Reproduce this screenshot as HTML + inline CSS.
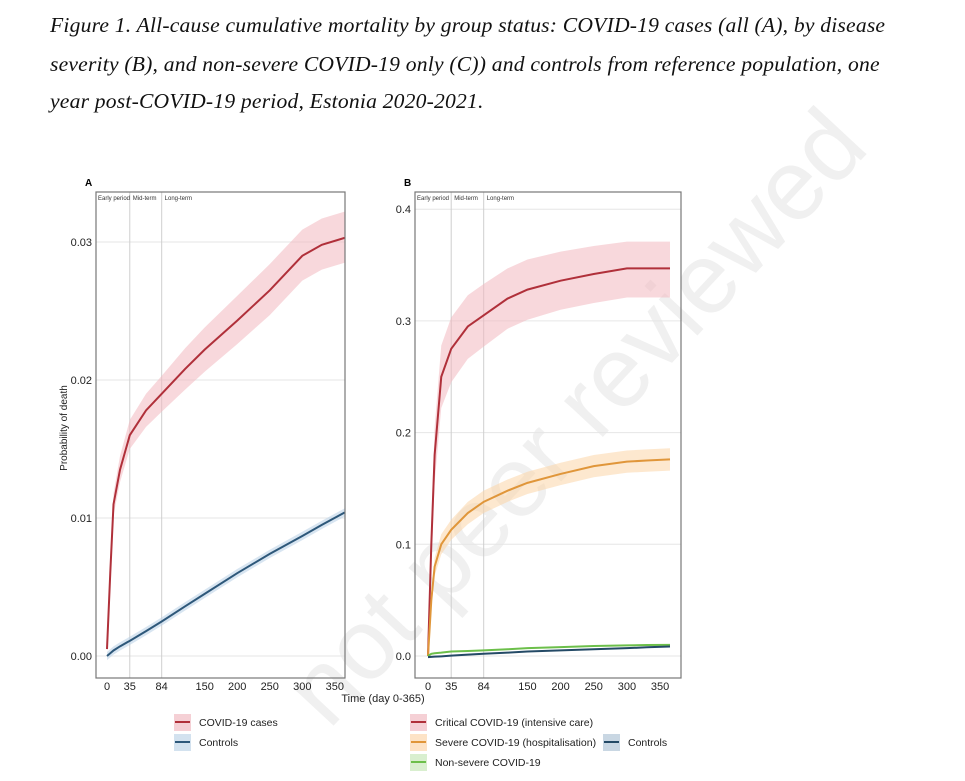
<!DOCTYPE html>
<html><head><meta charset="utf-8">
<style>
html,body{margin:0;padding:0;background:#fff;width:965px;height:781px;overflow:hidden}
.cap{position:absolute;left:50px;font-family:"Liberation Serif",serif;font-style:italic;font-size:21.6px;color:#111;white-space:nowrap;letter-spacing:0.2px}
svg{position:absolute;left:0;top:0;overflow:hidden}
text{font-family:"Liberation Sans",sans-serif}
</style></head><body>
<svg id="chart" width="965" height="781"></svg>
<div class="cap" style="top:13px">Figure 1. All-cause cumulative mortality by group status: COVID-19 cases (all (A), by disease</div>
<div class="cap" style="top:52px">severity (B), and non-severe COVID-19 only (C)) and controls from reference population, one</div>
<div class="cap" style="top:89px">year post-COVID-19 period, Estonia 2020-2021.</div>
<script>
// shared x data
const days = [0,5,10,20,35,60,84,120,150,200,250,300,330,365];
const xTicks = [0,35,84,150,200,250,300,350];
// Panel A
const aCovid = [0.0005,0.006,0.011,0.0135,0.016,0.0178,0.019,0.0208,0.0222,0.0243,0.0265,0.029,0.0298,0.0303];
const aCovidLo = [0.0003,0.0055,0.0102,0.0126,0.015,0.0166,0.0177,0.0193,0.0206,0.0226,0.0247,0.0272,0.028,0.0285];
const aCovidHi = [0.0008,0.0066,0.0118,0.0145,0.0171,0.019,0.0203,0.0223,0.0238,0.0261,0.0284,0.0309,0.0317,0.0322];
const aCtrl = [0,0.0002,0.0004,0.0007,0.0011,0.0018,0.0025,0.0036,0.0045,0.006,0.0074,0.0087,0.0095,0.0104];
const aTicks = [0,0.01,0.02,0.03];
const aTickLabels = ["0.00","0.01","0.02","0.03"];
// Panel B
const bCrit = [0,0.1,0.18,0.25,0.275,0.295,0.305,0.32,0.328,0.336,0.342,0.347,0.347,0.347];
const bCritLo = [0,0.08,0.155,0.222,0.245,0.266,0.277,0.293,0.301,0.31,0.316,0.321,0.321,0.321];
const bCritHi = [0,0.12,0.205,0.278,0.303,0.323,0.333,0.347,0.355,0.362,0.367,0.371,0.371,0.371];
const bSev = [0,0.05,0.08,0.1,0.113,0.128,0.138,0.148,0.155,0.163,0.17,0.174,0.175,0.176];
const bSevLo = [0,0.043,0.072,0.091,0.104,0.118,0.128,0.138,0.145,0.153,0.16,0.164,0.165,0.166];
const bSevHi = [0,0.057,0.088,0.109,0.122,0.138,0.148,0.158,0.165,0.173,0.18,0.184,0.185,0.186];
const bNon = [0,0.002,0.0025,0.003,0.004,0.0045,0.005,0.006,0.007,0.008,0.009,0.0095,0.0098,0.01];
const bCtrl = [-0.001,-0.0008,-0.0006,-0.0003,0.0003,0.0012,0.002,0.003,0.004,0.005,0.006,0.007,0.0078,0.0085];
const bTicks = [0,0.1,0.2,0.3,0.4];
const bTickLabels = ["0.0","0.1","0.2","0.3","0.4"];

const NS="http://www.w3.org/2000/svg";
const svg=document.getElementById('chart');
function mk(tag,attrs,parent){const e=document.createElementNS(NS,tag);for(const k in attrs)e.setAttribute(k,attrs[k]);(parent||svg).appendChild(e);return e;}

// watermark
const wm=mk('text',{x:600,y:440,'font-size':100,fill:'#f0f0f0',transform:'rotate(-47 600 440)','text-anchor':'middle'});


wm.textContent='not peer reviewed';

function panel(cfg){
  const g=mk('g',{});
  
  
  const X=d=>cfg.x0+d*cfg.kx;
  const Y=v=>cfg.y0-v*cfg.ky;
  cfg.yTicks.forEach((t,i)=>{
    const l=mk('line',{x1:cfg.L,x2:cfg.R,y1:Y(t),y2:Y(t),stroke:'#e6e6e6','stroke-width':1},g);
    
    
    const tx=mk('text',{x:cfg.L-4,y:Y(t)+4,'font-size':11,'text-anchor':'end',fill:'#222'},g);
    
    
    tx.textContent=cfg.yLabels[i];
  });
  [35,84].forEach(d=>{
    const l=mk('line',{x1:X(d),x2:X(d),y1:cfg.T,y2:cfg.B,stroke:'#cfcfcf','stroke-width':1},g);
    
    
  });
  [['Early period',0],['Mid-term',35],['Long-term',84]].forEach(p=>{
    const t=mk('text',{x:(p[1]===0?cfg.L+2:X(p[1])+3),y:cfg.T+8,'font-size':6,fill:'#333'},g);
    
    
    t.textContent=p[0];
  });
  xTicks.forEach(d=>{
    const t=mk('text',{x:X(d),y:cfg.B+12,'font-size':11,'text-anchor':'middle',fill:'#222'},g);
    
    
    t.textContent=d;
  });
  cfg.series.forEach(s=>{
    if(s.lo){
      let d='M'+days.map((dd,i)=>X(dd)+','+Y(s.hi[i])).join('L');
      d+='L'+days.slice().reverse().map((dd,j)=>X(dd)+','+Y(s.lo[days.length-1-j])).join('L')+'Z';
      const b=mk('path',{d:d,fill:s.band,opacity:0.55},g);
      
      
    }
    const p=mk('polyline',{points:days.map((dd,i)=>X(dd)+','+Y(s.v[i])).join(' '),fill:'none',stroke:s.color,'stroke-width':2},g);
    
    
  });
  const box=mk('rect',{x:cfg.L,y:cfg.T,width:cfg.R-cfg.L,height:cfg.B-cfg.T,fill:'none',stroke:'#777','stroke-width':1.2},g);
  
  
  const lab=mk('text',{x:cfg.L-11,y:cfg.T-6,'font-size':10,'font-weight':'bold'},g);
  
  
  lab.textContent=cfg.letter;
}
panel({name:'panel-a',letter:'A',L:96,R:345,T:192,B:678,x0:107,kx:0.651,y0:656,ky:13800,yTicks:aTicks,yLabels:aTickLabels,
  series:[{name:'covid-cases',v:aCovid,lo:aCovidLo,hi:aCovidHi,color:'#b0303a',band:'#f2b8c0'},
          {name:'controls',v:aCtrl,lo:aCtrl.map(v=>v-0.0003),hi:aCtrl.map(v=>v+0.0003),color:'#2e587a',band:'#b8d0e6'}]});
panel({name:'panel-b',letter:'B',L:415,R:681,T:192,B:678,x0:428,kx:0.663,y0:656,ky:1117,yTicks:bTicks,yLabels:bTickLabels,
  series:[{name:'critical',v:bCrit,lo:bCritLo,hi:bCritHi,color:'#b0303a',band:'#f2b8c0'},
          {name:'severe',v:bSev,lo:bSevLo,hi:bSevHi,color:'#e0963a',band:'#fbd6a8'},
          {name:'non-severe',v:bNon,color:'#6cbf4a'},
          {name:'controls-b',v:bCtrl,color:'#244a66'}]});

const yt=mk('text',{x:67,y:428,'font-size':10,'text-anchor':'middle',transform:'rotate(-90 67 428)',fill:'#222'});


yt.textContent='Probability of death';
const xt=mk('text',{x:383,y:702,'font-size':11,'text-anchor':'middle',fill:'#222'});


xt.textContent='Time (day 0-365)';

const legendItems=[['COVID-19 cases',174,722,'#b0303a','#f5d0d5'],['Controls',174,742,'#2e587a','#d3e2ef'],
 ['Critical COVID-19 (intensive care)',410,722,'#b0303a','#f5d0d5'],['Severe COVID-19 (hospitalisation)',410,742,'#e0963a','#fde3c6'],
 ['Non-severe COVID-19',410,762,'#6cbf4a','#d9efcf'],['Controls',603,742,'#244a66','#c9d7e3']];
legendItems.forEach(it=>{
  const g=mk('g',{});
  
  
  mk('rect',{x:it[1],y:it[2]-8,width:17,height:17,fill:it[4]},g);
  mk('line',{x1:it[1]+1,x2:it[1]+16,y1:it[2],y2:it[2],stroke:it[3],'stroke-width':2},g);
  const t=mk('text',{x:it[1]+25,y:it[2]+4,'font-size':10.5,fill:'#222'},g);
  t.textContent=it[0];
});
</script>
</body></html>
